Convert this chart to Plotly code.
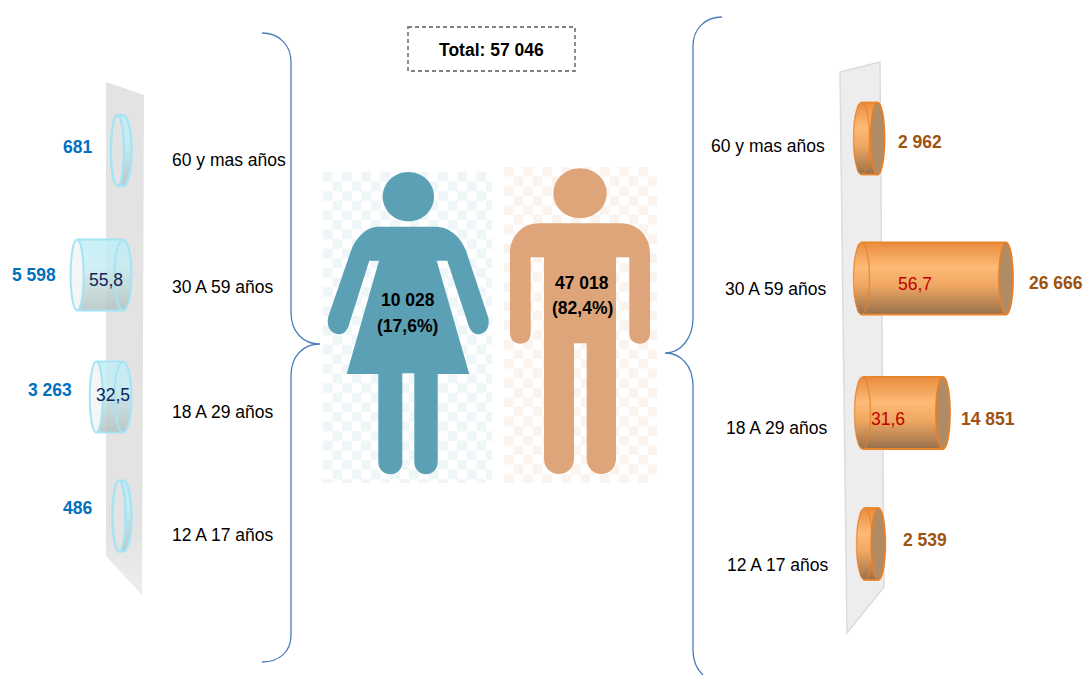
import math
import plotly.graph_objects as go

# ---------- data ----------
categories = ["60 y mas años", "30 A 59 años", "18 A 29 años", "12 A 17 años"]
mujeres = [681, 5598, 3263, 486]
hombres = [2962, 26666, 14851, 2539]
mujeres_lbl = ["681", "5 598", "3 263", "486"]
hombres_lbl = ["2 962", "26 666", "14 851", "2 539"]
mujeres_pct = [None, "55,8", "32,5", None]
hombres_pct = [None, "56,7", "31,6", None]
total_label = "Total: 57 046"
mujer_tot = ["10 028", "(17,6%)"]
hombre_tot = ["47 018", "(82,4%)"]

# ---------- layout (page pixels) ----------
W, H = 1083, 675
L_ZERO, L_SCALE = 123.0, 0.0082     # px of value 0, px per unit, left panel
R_ZERO, R_SCALE = 861.5, 0.00542    # same, right panel
L_ROW = [150.5, 275.0, 397.0, 516.0]
R_ROW = [138.5, 278.5, 413.0, 544.0]
R_SHIFT = [0, 0, 1, 3]
L_HH, R_HH = 35.5, 36.0
N = 36

def lerp(stops, t):
    for (a, ca), (b, cb) in zip(stops, stops[1:]):
        if t <= b:
            f = (t - a) / (b - a)
            return "rgb(%d,%d,%d)" % tuple(round(x + (y - x) * f) for x, y in zip(ca, cb))
    return "rgb(%d,%d,%d)" % stops[-1][1]

R_STOPS = [(0, (232, 140, 62)), (.35, (253, 186, 118)), (.6, (240, 168, 98)), (.85, (186, 134, 84)), (1, (150, 112, 76))]
L_STOPS = [(0, (190, 238, 248)), (.4, (196, 236, 242)), (.7, (188, 214, 214)), (1, (178, 192, 192))]

def slices(values, rows, hh, zero_half, shifts, scale, stops):
    ys, xs, bases, cols = [], [], [], []
    for v, r, sh in zip(values, rows, shifts):
        for k in range(N):
            u = (k + .5) / N
            t = 2 * u - 1
            round_off = zero_half * math.sqrt(max(0, 1 - t * t)) / scale
            ys.append(r + t * hh)
            bases.append(sh / scale - round_off)
            xs.append(v + round_off)
            cols.append(lerp(stops, u))
    return ys, xs, bases, cols

fig = go.Figure()

ry, rx, rb, rc = slices(hombres, R_ROW, R_HH, 8, R_SHIFT, R_SCALE, R_STOPS)
fig.add_trace(go.Bar(orientation="h", y=ry, x=rx, base=rb, width=2 * R_HH / N + .4,
                     marker=dict(color=rc, line=dict(width=0)), xaxis="x2", yaxis="y", hoverinfo="skip"))
ly, lx, lb, lc = slices(mujeres, L_ROW, L_HH, 8.5, [0, 0, 0, 0], L_SCALE, L_STOPS)
fig.add_trace(go.Bar(orientation="h", y=ly, x=lx, base=lb, width=2 * L_HH / N,
                     marker=dict(color=lc, line=dict(width=0)), opacity=.8, xaxis="x3", yaxis="y", hoverinfo="skip"))

shapes = []
def path(d, fill=None, line=None, lw=0, layer="below", dash=None):
    s = dict(type="path", path=d, xref="x", yref="y", layer=layer,
             line=dict(color=line or "rgba(0,0,0,0)", width=lw))
    if fill:
        s["fillcolor"] = fill
    if dash:
        s["line"]["dash"] = dash
    shapes.append(s)

# plates
path("M106,82 L144,95 L142,595 L106,556 Z", fill="#E3E3E3")
for fade_y in range(540, 600, 6):
    path(f"M100,{fade_y} L150,{fade_y} L150,600 L100,600 Z", fill="rgba(255,255,255,.07)")
path("M840,72 L880,62 L884,587 L847,633 Z", fill="#EDEDED", line="#DCDCDC", lw=1.5)

# checker grounds
def checker(x0, y0, x1, y1, c, color):
    d = []
    i = 0
    y = y0
    while y < y1:
        j = 0
        x = x0
        while x < x1:
            if (i + j) % 2 == 0:
                xe, ye = min(x + c, x1), min(y + c, y1)
                d.append(f"M{x:.1f},{y:.1f} L{xe:.1f},{y:.1f} L{xe:.1f},{ye:.1f} L{x:.1f},{ye:.1f} Z")
            x += c
            j += 1
        y += c
        i += 1
    path(" ".join(d), fill=color)

checker(323, 172, 492, 483, 9.6, "#EEF6F8")
checker(504, 167, 657, 483, 9.6, "#FBF4EE")

# figures, drawn in the 3x crop's coordinates
def tr(x, y):
    return f"{310 + x / 3:.1f},{160 + y / 3:.1f}"

def figpath(cmds):
    out = []
    for c in cmds:
        out.append(c[0] + " ".join(tr(c[i], c[i + 1]) for i in range(1, len(c), 2)))
    return " ".join(out) + " Z"

def head(cx, cy, rx, ry):
    k = .5523
    return [("M", cx - rx, cy),
            ("C", cx - rx, cy - k * ry, cx - k * rx, cy - ry, cx, cy - ry),
            ("C", cx + k * rx, cy - ry, cx + rx, cy - k * ry, cx + rx, cy),
            ("C", cx + rx, cy + k * ry, cx + k * rx, cy + ry, cx, cy + ry),
            ("C", cx - k * rx, cy + ry, cx - rx, cy + k * ry, cx - rx, cy)]

WOMAN = "#5BA0B4"
MAN = "#DDA579"
path(figpath(head(295, 110, 77, 74)), fill=WOMAN)
path(figpath([("M", 205, 200), ("L", 375, 200), ("C", 420, 200, 452, 232, 468, 272), ("L", 534, 470),
              ("C", 548, 525, 490, 542, 476, 497), ("L", 412, 302), ("L", 380, 302), ("L", 478, 642),
              ("L", 383, 642), ("L", 383, 905), ("C", 383, 955, 313, 955, 313, 905), ("L", 313, 640),
              ("L", 277, 640), ("L", 277, 905), ("C", 277, 955, 205, 955, 205, 905), ("L", 205, 642),
              ("L", 110, 642), ("L", 207, 302), ("L", 178, 302), ("L", 116, 497),
              ("C", 102, 542, 42, 525, 55, 470), ("L", 123, 272), ("C", 138, 232, 170, 200, 205, 200)]), fill=WOMAN)
path(figpath(head(810, 100, 80, 75)), fill=MAN)
path(figpath([("M", 690, 190), ("L", 930, 190), ("C", 985, 190, 1020, 230, 1020, 280), ("L", 1020, 520),
              ("C", 1020, 562, 958, 562, 958, 520), ("L", 958, 292), ("L", 918, 292), ("L", 918, 895),
              ("C", 918, 958, 830, 958, 830, 895), ("L", 830, 550), ("L", 792, 550), ("L", 792, 895),
              ("C", 792, 958, 702, 958, 702, 895), ("L", 702, 292), ("L", 662, 292), ("L", 662, 520),
              ("C", 662, 562, 600, 562, 600, 520), ("L", 600, 280), ("C", 600, 230, 635, 190, 690, 190)]), fill=MAN)

# braces
BLUE = "#4A7EBB"
path("M262,33 C279,33 291,45 291,62 L291,312 C291,332 303,344 320,344 C303,344 291,356 291,376 L291,635 C291,652 279,662 262,662",
     line=BLUE, lw=1.3)
path("M722,17 C705,17 693,29 693,46 L693,318 C693,338 681,353 665,353 C681,353 693,366 693,386 L693,650 C693,662 697,670 704,676",
     line=BLUE, lw=1.3)

# total box
path("M408,27 L575,27 L575,71 L408,71 Z", line="#808080", lw=1.8, dash="4px,3px")

# cylinder ends, computed from the values
def ellipse(xref, val, half, scale, shift, row, hh, fill, line, lw):
    c = val + shift / scale
    shapes.append(dict(type="circle", xref=xref, yref="y", layer="above",
                       x0=c - half / scale, x1=c + half / scale, y0=row - hh, y1=row + hh,
                       fillcolor=fill, line=dict(color=line, width=lw)))

def edge(xref, val, shift, scale, y, color, lw):
    shapes.append(dict(type="line", xref=xref, yref="y", layer="above",
                       x0=shift / scale, x1=val + shift / scale, y0=y, y1=y,
                       line=dict(color=color, width=lw)))

for v, r, sh in zip(hombres, R_ROW, R_SHIFT):
    ellipse("x2", 0, 8, R_SCALE, sh, r, R_HH, "rgba(0,0,0,0)", "rgba(232,128,40,.75)", 1.4)
    edge("x2", v, sh, R_SCALE, r - R_HH, "#E8862C", 1.8)
    edge("x2", v, sh, R_SCALE, r + R_HH, "#E8862C", 1.8)
    ellipse("x2", v, 7, R_SCALE, sh, r, R_HH, "#B08C66", "#E8802A", 1.8)

ICE = "#A4E4F6"
for v, r in zip(mujeres, L_ROW):
    ring = v < 1000
    ellipse("x3", 0, 8.5, L_SCALE, 0, r, L_HH, "rgba(0,0,0,0)", ICE, 2.4 if ring else 2)
    edge("x3", v, 0, L_SCALE, r - L_HH, ICE, 1.8)
    edge("x3", v, 0, L_SCALE, r + L_HH, ICE, 1.8)
    ellipse("x3", v, 6.5, L_SCALE, 0, r, L_HH, "#E3E3E3" if ring else "#F4F5F6", ICE, 2.4 if ring else 2)

# text
ann = []
def txt(t, x, y, size=17.5, color="#000000", bold=False, anchor="center"):
    ann.append(dict(text=f"<b>{t}</b>" if bold else t, x=x, y=y, xref="x", yref="y", showarrow=False,
                    xanchor=anchor, yanchor="middle", font=dict(family="Liberation Sans, Arial", size=size, color=color)))

L_TXT = [(170, 160), (170, 287), (170, 412), (170, 535)]
R_TXT = [(827, 146), (828, 289), (829, 428), (830, 565)]
for c, (x, y) in zip(categories, L_TXT):
    txt(c, x, y, anchor="left")
for c, (x, y) in zip(categories, R_TXT):
    txt(c, x, y, anchor="right")

L_VAL = [(77, 147), (34, 275), (50, 390), (77, 508)]
R_VAL = [(920, 142), (1056, 283), (988, 419), (925, 540)]
for t, (x, y) in zip(mujeres_lbl, L_VAL):
    txt(t, x, y, color="#0070C0", bold=True)
for t, (x, y) in zip(hombres_lbl, R_VAL):
    txt(t, x, y, color="#A0520F", bold=True)

L_PCT = [None, (106, 280), (113, 395), None]
R_PCT = [None, (915, 284), (888, 419), None]
for t, p in zip(mujeres_pct, L_PCT):
    if t:
        txt(t, p[0], p[1], color="#10245C")
for t, p in zip(hombres_pct, R_PCT):
    if t:
        txt(t, p[0], p[1], color="#C00000")

txt(total_label, 491, 50, bold=True)
txt(mujer_tot[0], 408, 300, bold=True)
txt(mujer_tot[1], 407, 326, bold=True)
txt(hombre_tot[0], 582, 283, bold=True)
txt(hombre_tot[1], 582, 308, bold=True)

hidden = dict(visible=False, showgrid=False, zeroline=False, fixedrange=True)
fig.update_layout(
    width=W, height=H, autosize=False,
    margin=dict(l=0, r=0, t=0, b=0), paper_bgcolor="white", plot_bgcolor="white",
    showlegend=False, barmode="overlay", bargap=0,
    xaxis=dict(range=[0, W], domain=[0, 1], **hidden),
    xaxis2=dict(range=[-R_ZERO / R_SCALE, (W - R_ZERO) / R_SCALE], domain=[0, 1], overlaying="x", anchor="y", **hidden),
    xaxis3=dict(range=[L_ZERO / L_SCALE, (L_ZERO - W) / L_SCALE], domain=[0, 1], overlaying="x", anchor="y", **hidden),
    yaxis=dict(range=[H, 0], domain=[0, 1], **hidden),
    shapes=shapes, annotations=ann,
)
fig.write_html("out.html", config=dict(displayModeBar=False),
               post_script="document.body.style.margin='0';document.documentElement.style.overflow='hidden';")
